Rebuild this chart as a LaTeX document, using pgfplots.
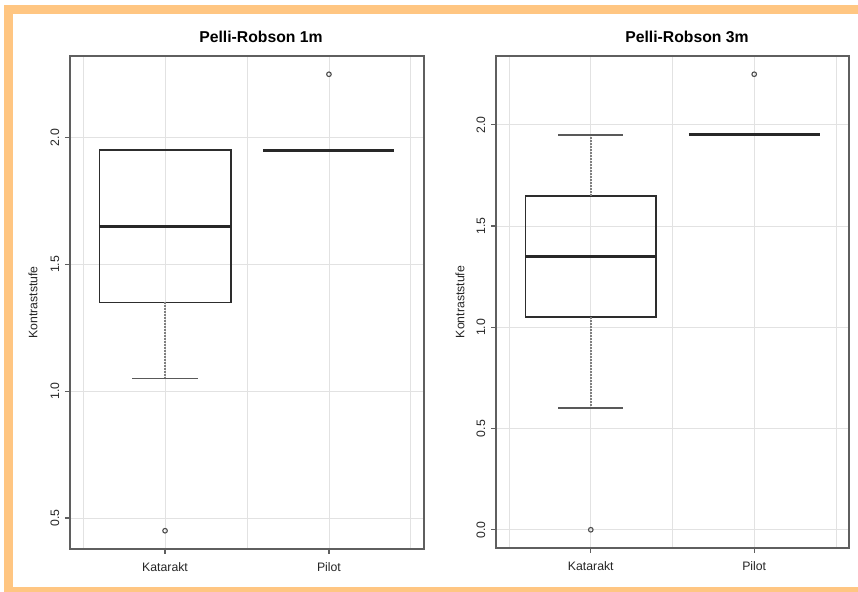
\documentclass[border=0pt]{standalone}
\usepackage{pgfplots}
\pgfplotsset{compat=1.18}
\usepackage{fontspec}
\setmainfont{Liberation Sans}
\definecolor{frameorange}{RGB}{255,198,130}
\definecolor{boxcol}{RGB}{45,45,45}
\definecolor{axcol}{RGB}{95,95,95}
\definecolor{gridcol}{RGB}{226,226,226}
\newlength{\pu}
\setlength{\pu}{0.75pt}
\pgfplotsset{
  rplot/.style={
    scale only axis, anchor=south west, clip=false,
    xmin=0.42, xmax=2.58,
    xtick={1,2}, xticklabels={Katarakt,Pilot},
    minor xtick={0.5,1.5,2.5},
    grid=both,
    major grid style={draw=gridcol, line width=0.8\pu},
    minor grid style={draw=gridcol, line width=0.8\pu},
    tick align=outside, major tick length=5\pu, minor tick length=0pt,
    xtick pos=lower, ytick pos=left,
    axis line style={draw=axcol, line width=1.6\pu},
    tick style={draw=axcol, line width=1.2\pu},
    /pgf/number format/assume math mode=true,
    /pgf/number format/fixed, /pgf/number format/fixed zerofill,
    /pgf/number format/precision=1,
    ticklabel style={font=\fontsize{9.2}{10}\selectfont, text=black!85},
    yticklabel style={rotate=90, anchor=south, yshift=1\pu},
    xticklabel style={anchor=north, yshift=-4\pu},
  },
  boxl/.style={draw=boxcol, line width=1.8\pu, line join=miter},
  medl/.style={draw=boxcol!90!black, line width=2.6\pu},
  whisk/.style={draw=black!50, line width=1.7\pu, dash pattern=on 1.5\pu off 1.5\pu},
  capl/.style={draw=black!65, line width=1.8\pu},
  outl/.style={only marks, mark=o, mark size=2.3\pu, mark options={draw=black!70, line width=1.1\pu}},
}
\begin{document}
\begin{tikzpicture}
\path[fill=white] (0,0) rectangle (858\pu,592\pu);
\fill[frameorange] (4\pu,578\pu) rectangle (858\pu,587\pu);
\fill[frameorange] (4\pu,0) rectangle (13\pu,587\pu);
\fill[frameorange] (4\pu,0) rectangle (858\pu,5\pu);

% Left panel
\begin{axis}[rplot, at={(70\pu,43\pu)}, width=354\pu, height=493\pu,
  ymin=0.378, ymax=2.322, ytick={0.5,1,1.5,2}]
\addplot[boxl] coordinates {(0.6,1.35) (1.4,1.35) (1.4,1.95) (0.6,1.95) (0.6,1.35)};
\addplot[whisk] coordinates {(1,1.35) (1,1.05)};
\addplot[capl] coordinates {(0.8,1.05) (1.2,1.05)};
\addplot[medl] coordinates {(0.6,1.65) (1.4,1.65)};
\addplot[medl, line width=3\pu] coordinates {(1.6,1.95) (2.4,1.95)};
\addplot[outl] coordinates {(1,0.45) (2,2.25)};
\node[font=\fontsize{11.8}{13}\selectfont\bfseries] at (rel axis cs:0.5395,1.0385) {Pelli-Robson 1m};
\node[rotate=90, font=\fontsize{9.2}{10}\selectfont, text=black!85] at (rel axis cs:-0.1045,0.5) {Kontraststufe};
\end{axis}

% Right panel
\begin{axis}[rplot, at={(496\pu,44\pu)}, width=353\pu, height=492\pu,
  ymin=-0.09, ymax=2.34, ytick={0,0.5,1,1.5,2}]
\addplot[boxl] coordinates {(0.6,1.05) (1.4,1.05) (1.4,1.65) (0.6,1.65) (0.6,1.05)};
\addplot[whisk] coordinates {(1,1.05) (1,0.6)};
\addplot[whisk] coordinates {(1,1.65) (1,1.95)};
\addplot[capl] coordinates {(0.8,0.6) (1.2,0.6)};
\addplot[capl] coordinates {(0.8,1.95) (1.2,1.95)};
\addplot[medl] coordinates {(0.6,1.35) (1.4,1.35)};
\addplot[medl, line width=3\pu] coordinates {(1.6,1.95) (2.4,1.95)};
\addplot[outl] coordinates {(1,0.0) (2,2.25)};
\node[font=\fontsize{11.8}{13}\selectfont\bfseries] at (rel axis cs:0.541,1.0386) {Pelli-Robson 3m};
\node[rotate=90, font=\fontsize{9.2}{10}\selectfont, text=black!85] at (rel axis cs:-0.102,0.5) {Kontraststufe};
\end{axis}
\end{tikzpicture}
\end{document}
